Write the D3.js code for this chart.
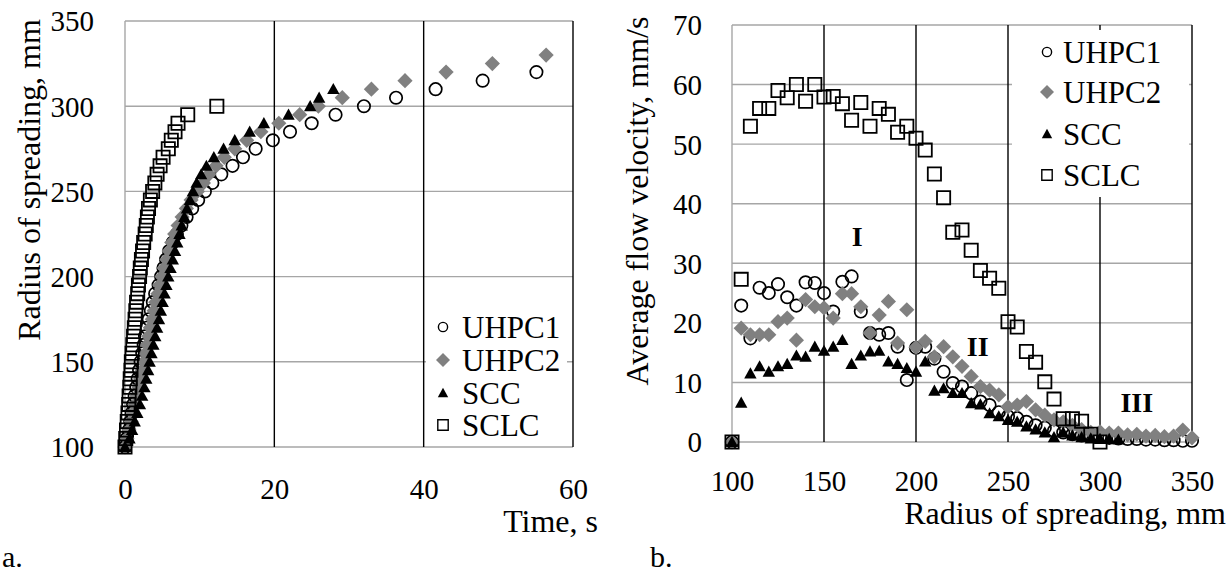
<!DOCTYPE html>
<html>
<head>
<meta charset="utf-8">
<script src="https://cdn.jsdelivr.net/npm/d3@7"></script>
<style>
  html, body { margin: 0; padding: 0; background: #fff; }
  svg { display: block; }
  text { font-family: "Liberation Serif", "Times New Roman", serif; fill: #000; }
</style>
</head>
<body>
<svg id="chart" width="1232" height="574"></svg>
<script>
// ---- Panel a: radius of spreading vs time ----
const seriesNames = ["UHPC1", "UHPC2", "SCC", "SCLC"];

const uhpc1Radius = [100,105,110,115,120,125,130,135,140,145,150,155,160,165,170,175,180,185,190,195,200,205,210,215,220,225,230,235,240,245,250,255,260,265,270,275,280,285,290,295,300,305,310,315,320];
const uhpc1Time = [0,0.22,0.51,0.7,0.9,1.09,1.29,1.51,1.7,1.89,2.09,2.31,2.5,2.68,2.91,3.18,3.46,3.73,4.04,4.5,4.84,5.15,5.5,5.9,6.4,6.95,7.55,8.25,9.0,9.8,10.7,11.7,12.9,14.4,15.8,17.5,19.8,22.1,25.0,28.2,32.0,36.3,41.6,47.9,55.1];

const uhpc2Radius = [100,105,110,115,120,125,130,135,140,145,150,155,160,165,170,175,180,185,190,195,200,205,210,215,220,225,230,235,240,245,250,255,260,265,270,275,280,285,290,295,300,305,310,315,320,325,330];
const uhpc2Time = [0,0.26,0.54,0.82,1.1,1.35,1.59,1.88,2.09,2.31,2.53,2.77,2.97,3.17,3.39,3.66,3.9,4.11,4.41,4.64,4.95,5.25,5.6,5.91,6.26,6.65,7.11,7.65,8.22,8.85,9.7,10.5,11.25,12.2,13.3,14.7,16.3,18.2,20.6,23.4,25.9,29.1,33.0,37.5,43.0,49.2,56.4];

const sccRadius = [100,105,110,115,120,125,130,135,140,145,150,155,160,165,170,175,180,185,190,195,200,205,210,215,220,225,230,235,240,245,250,255,260,265,270,275,280,285,290,295,300,305,310];
const sccTime = [0,0.6,0.95,1.3,1.65,2.0,2.3,2.6,2.85,3.1,3.3,3.55,3.8,4.05,4.3,4.55,4.8,5.05,5.3,5.55,5.8,6.1,6.4,6.7,7.0,7.3,7.6,7.95,8.3,8.7,9.1,9.6,10.2,10.9,11.9,13.2,14.7,16.7,18.6,21.9,24.8,26.0,27.9];

const sclcRadius = [100,105,110,115,120,125,130,135,140,145,150,155,160,165,170,175,180,185,190,195,200,205,210,215,220,225,230,235,240,245,250,255,260,265,270,275,280,285,290,295,300];
const sclcTime = [0,0.1,0.2,0.3,0.4,0.5,0.55,0.65,0.7,0.8,0.85,0.95,1.05,1.15,1.25,1.35,1.45,1.55,1.7,1.8,1.95,2.05,2.2,2.35,2.5,2.7,2.85,3.0,3.15,3.4,3.7,4.0,4.3,4.7,5.1,5.8,6.2,6.7,7.1,8.4,12.3];

const timeTicks = [0, 20, 40, 60];
const radiusTicks = [100, 150, 200, 250, 300, 350];

// ---- Panel b: average flow velocity vs radius ----
const uhpc1VelRadius = [100,105,110,115,120,125,130,135,140,145,150,155,160,165,170,175,180,185,190,195,200,205,210,215,220,225,230,235,240,245,250,255,260,265,270,275,280,285,290,295,300,305,310,315,320,325,330,335,340,345,350];
const uhpc1Velocity = [0,22.9,17.4,25.9,25,26.5,24.3,22.9,26.8,26.7,25,21.9,26.9,27.8,21.9,18.3,18,18.3,16,10.4,15.8,16,14,11.8,9.9,9.3,8.2,6.8,6.2,5.0,4.3,4.0,3.4,2.8,2.4,1.9,1.6,1.3,1.1,1.0,0.9,0.7,0.6,0.5,0.5,0.4,0.4,0.3,0.3,0.2,0.2];

const uhpc2VelRadius = [100,105,110,115,120,125,130,135,140,145,150,155,160,165,170,175,180,185,190,195,200,205,210,215,220,225,230,235,240,245,250,255,260,265,270,275,280,285,290,295,300,305,310,315,320,325,330,335,340,345,350];
const uhpc2Velocity = [0,19.1,18,18,18,20.2,20.8,17.1,23.9,22.7,22.5,20.8,24.9,24.9,22.7,18.3,21.3,23.6,16.6,22.2,15.9,16.9,14.3,16,14.3,12.7,11,9.3,8.7,7.9,5.9,6.2,6.8,5.4,4.5,3.7,3.4,2.8,2.1,1.6,1.7,1.5,1.5,1.2,1.3,1.0,1.1,0.9,1.0,2.0,0.7];

const sccVelRadius = [100,105,110,115,120,125,130,135,140,145,150,155,160,165,170,175,180,185,190,195,200,205,210,215,220,225,230,235,240,245,250,255,260,265,270,275,280,285,290,295,300,305,310];
const sccVelocity = [0,6.6,11.5,12.7,11.8,12.7,13.1,14.5,14.3,16,15.3,16,17.1,13.1,14.5,15.2,15.3,13.5,13.1,12.4,11.8,13.5,8.6,9.0,8.2,8.2,6.5,6.3,4.8,4.3,3.7,3.4,2.6,2.1,1.6,0.8,1.6,1.1,0.8,0.6,0.5,0.5,0.4];

const sclcVelRadius = [100,105,110,115,120,125,130,135,140,145,150,155,160,165,170,175,180,185,190,195,200,205,210,215,220,225,230,235,240,245,250,255,260,265,270,275,280,285,290,295,300];
const sclcVelocity = [0,27.3,53,56,56,59,57.8,60,57.2,60,57.9,58,56.8,54,57,53,56,55,52,53,51,49,45,41,35.2,35.6,32.2,28.8,27.5,25.8,20.2,19.3,15.2,13.4,10.1,7.2,3.9,3.9,3.5,1.3,0];

const spreadTicks = [100, 150, 200, 250, 300, 350];
const velocityTicks = [0, 10, 20, 30, 40, 50, 60, 70];

const zoneLabels = [
  { text: "I", r: 168, v: 34.5 },
  { text: "II", r: 233.5, v: 16 },
  { text: "III", r: 320, v: 6.7 }
];

// ---- shared styling ----
const GRID_GRAY = "#a6a6a6";
const markerStyles = {
  UHPC1: { shape: "circle", fill: "none", stroke: "#000" },
  UHPC2: { shape: "diamond", fill: "#808080", stroke: "none" },
  SCC:   { shape: "triangle", fill: "#000", stroke: "none" },
  SCLC:  { shape: "square", fill: "none", stroke: "#000" }
};

function markerPath(shape, s) {
  // s = nominal half-size of the marker
  switch (shape) {
    case "diamond":
      return `M0,${-s}L${s},0L0,${s}L${-s},0Z`;
    case "triangle":
      return `M0,${-s}L${s},${s * 0.8}L${-s},${s * 0.8}Z`;
    case "square":
      return `M${-s},${-s}H${s}V${s}H${-s}Z`;
    default:
      return null;
  }
}

function drawMarker(g, name, x, y, big) {
  const st = markerStyles[name];
  if (st.shape === "circle") {
    g.append("circle").attr("cx", x).attr("cy", y)
      .attr("r", big ? 6.2 : 4.6)
      .attr("fill", st.fill).attr("stroke", st.stroke)
      .attr("stroke-width", big ? 1.7 : 1.4);
  } else {
    const size = st.shape === "diamond" ? (big ? 7.6 : 7) :
                 st.shape === "triangle" ? (big ? 6.2 : 5.2) : (big ? 6.6 : 5.2);
    g.append("path").attr("d", markerPath(st.shape, size))
      .attr("transform", `translate(${x},${y})`)
      .attr("fill", st.fill).attr("stroke", st.stroke)
      .attr("stroke-width", big ? 1.8 : 1.4);
  }
}

const svg = d3.select("#chart");

function panel(cfg) {
  const g = svg.append("g");
  const x = d3.scaleLinear().domain(cfg.xDomain).range(cfg.xRange);
  const y = d3.scaleLinear().domain(cfg.yDomain).range(cfg.yRange);

  // horizontal gridlines (gray), including top border and x axis line
  g.append("g").selectAll("line").data(cfg.yTicks).join("line")
    .attr("x1", cfg.xRange[0]).attr("x2", cfg.xRange[1])
    .attr("y1", d => y(d)).attr("y2", d => y(d))
    .attr("stroke", GRID_GRAY).attr("stroke-width", 1.4);

  // left border (gray)
  g.append("line")
    .attr("x1", cfg.xRange[0]).attr("x2", cfg.xRange[0])
    .attr("y1", cfg.yRange[0]).attr("y2", cfg.yRange[1])
    .attr("stroke", GRID_GRAY).attr("stroke-width", 1.4);

  // vertical gridlines (black)
  g.append("g").selectAll("line").data(cfg.xTicks.slice(1)).join("line")
    .attr("x1", d => x(d)).attr("x2", d => x(d))
    .attr("y1", cfg.yRange[0]).attr("y2", cfg.yRange[1])
    .attr("stroke", "#000").attr("stroke-width", 1.4);

  // legend box (white) drawn over the grid
  const lg = cfg.legend;
  g.append("rect").attr("x", lg.x0).attr("y", lg.y0)
    .attr("width", lg.x1 - lg.x0).attr("height", lg.y1 - lg.y0)
    .attr("fill", "#fff");

  // tick labels via d3 axes (no domain path, no tick lines)
  const xAxis = d3.axisBottom(x).tickValues(cfg.xTicks).tickSize(0).tickPadding(0);
  const yAxis = d3.axisLeft(y).tickValues(cfg.yTicks).tickSize(0).tickPadding(0);
  const xa = g.append("g").attr("transform", `translate(0,${cfg.xLabelY})`).call(xAxis);
  const ya = g.append("g").attr("transform", `translate(${cfg.yLabelX},0)`).call(yAxis);
  [xa, ya].forEach(a => {
    a.select(".domain").remove();
    a.attr("font-family", null);
    a.selectAll("text").attr("font-size", 29).attr("fill", "#000");
  });
  xa.selectAll("text").attr("dy", "0.71em");
  ya.selectAll("text").attr("dy", "0.34em");

  // series
  cfg.series.forEach(s => {
    const sg = g.append("g");
    s.xs.forEach((xv, i) => drawMarker(sg, s.name, x(xv), y(s.ys[i]), true));
  });

  // legend entries
  seriesNames.forEach((name, i) => {
    const cy = lg.rowY[i];
    drawMarker(g, name, lg.markerX, cy, false);
    g.append("text").attr("x", lg.textX).attr("y", cy).attr("dy", "0.35em")
      .attr("font-size", 31).text(name);
  });

  // axis titles
  g.append("text").attr("x", cfg.xTitle.x).attr("y", cfg.xTitle.y)
    .attr("text-anchor", "end").attr("font-size", 32).text(cfg.xTitle.text);
  g.append("text")
    .attr("transform", `translate(${cfg.yTitle.x},${cfg.yTitle.y}) rotate(-90)`)
    .attr("text-anchor", "middle").attr("font-size", 32).text(cfg.yTitle.text);

  // panel letter
  g.append("text").attr("x", cfg.letter.x).attr("y", cfg.letter.y)
    .attr("font-size", 30).text(cfg.letter.text);

  return { g, x, y };
}

panel({
  xDomain: [0, 60], xRange: [125, 573],
  yDomain: [100, 350], yRange: [447, 21],
  xTicks: timeTicks, yTicks: radiusTicks,
  xLabelY: 478, yLabelX: 94,
  series: [
    { name: "UHPC1", xs: uhpc1Time, ys: uhpc1Radius },
    { name: "UHPC2", xs: uhpc2Time, ys: uhpc2Radius },
    { name: "SCC", xs: sccTime, ys: sccRadius },
    { name: "SCLC", xs: sclcTime, ys: sclcRadius }
  ],
  legend: { x0: 426, x1: 567, y0: 306, y1: 446, markerX: 443, textX: 462, rowY: [327, 360, 393, 425] },
  xTitle: { text: "Time, s", x: 598, y: 532 },
  yTitle: { text: "Radius of spreading, mm", x: 40, y: 180 },
  letter: { text: "a.", x: 2, y: 567 }
});

const right = panel({
  xDomain: [100, 350], xRange: [732, 1192],
  yDomain: [0, 70], yRange: [442, 25],
  xTicks: spreadTicks, yTicks: velocityTicks,
  xLabelY: 470, yLabelX: 702,
  series: [
    { name: "UHPC1", xs: uhpc1VelRadius, ys: uhpc1Velocity },
    { name: "UHPC2", xs: uhpc2VelRadius, ys: uhpc2Velocity },
    { name: "SCC", xs: sccVelRadius, ys: sccVelocity },
    { name: "SCLC", xs: sclcVelRadius, ys: sclcVelocity }
  ],
  legend: { x0: 1012, x1: 1189, y0: 30, y1: 197, markerX: 1047, textX: 1063, rowY: [52, 92, 134, 175] },
  xTitle: { text: "Radius of spreading, mm", x: 1226, y: 524 },
  yTitle: { text: "Average flow velocity, mm/s", x: 648, y: 201 },
  letter: { text: "b.", x: 650, y: 567 }
});

// zone labels on panel b
right.g.append("g").selectAll("text").data(zoneLabels).join("text")
  .attr("x", d => right.x(d.r)).attr("y", d => right.y(d.v))
  .attr("text-anchor", "middle").attr("dy", "0.35em")
  .attr("font-size", 28).attr("font-weight", "bold")
  .text(d => d.text);
</script>
</body>
</html>
